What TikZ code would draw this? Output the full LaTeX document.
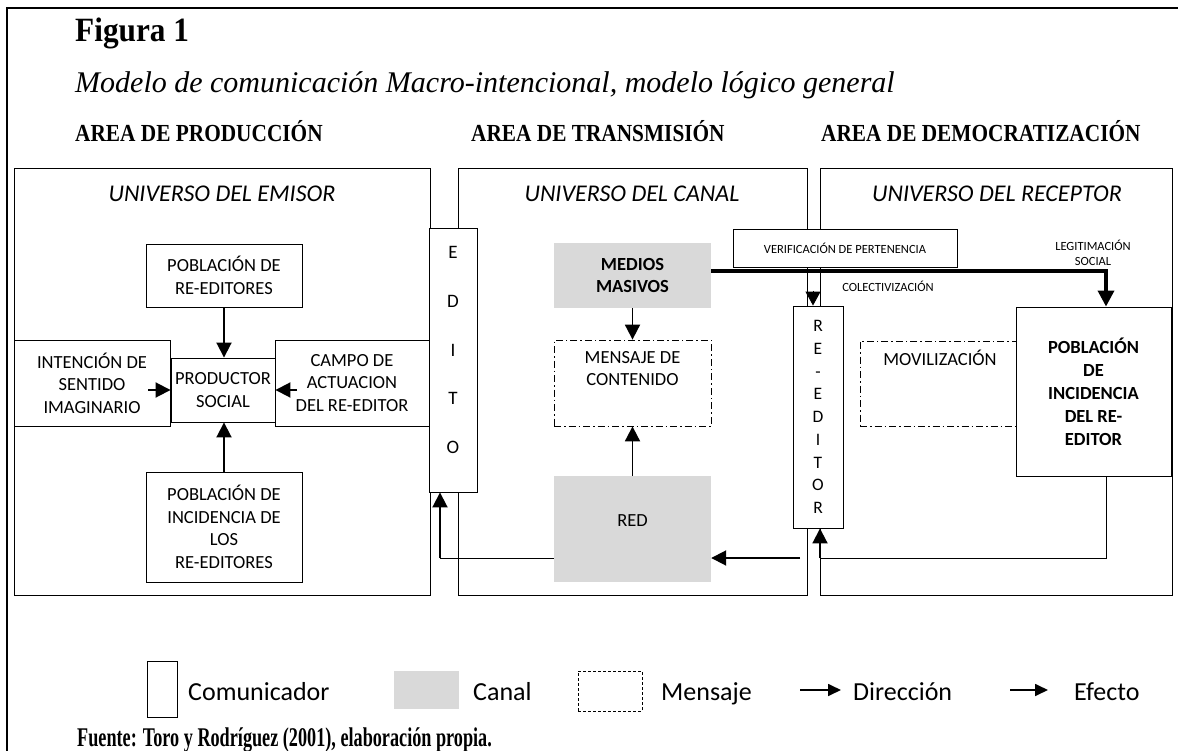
\documentclass[tikz,border=0pt]{standalone}
\usepackage{fontspec}
\setmainfont{Liberation Serif}
\setsansfont{Carlito}
\usetikzlibrary{arrows.meta}
\definecolor{canalgray}{HTML}{D9D9D9}
\newcommand{\fs}[2]{\fontsize{#1}{#2}\selectfont}

\begin{document}
\begin{tikzpicture}[x=1pt,y=-1pt,
  universe/.style={draw,line width=0.9pt,inner sep=0pt},
  utit/.style={inner sep=0pt,font=\sffamily\itshape\fs{24}{28}},
  area/.style={anchor=base west,inner sep=0pt,font=\bfseries\fs{24.5}{28}},
  caja/.style={draw,fill=white,line width=0.9pt,inner sep=0pt,align=center,font=\sffamily\fs{18.5}{22.5}},
  canal/.style={fill=canalgray,inner sep=0pt,align=center,font=\sffamily\fs{18.5}{22.5}},
  mensaje/.style={draw,line width=0.8pt,dash pattern=on 7pt off 3pt on 1.5pt off 3pt,inner sep=0pt,align=center,font=\sffamily\fs{18.5}{22.5}},
  chico/.style={inner sep=0pt,align=center,font=\sffamily\fs{12.5}{15}},
  leyenda/.style={anchor=base west,inner sep=0pt,font=\sffamily\fs{26}{30}},
  arr/.style={line width=1.9pt,-{Triangle[length=15pt,width=15pt]}},
  efecto/.style={line width=3.5pt,-{Triangle[length=16pt,width=16pt]}},
  legarr/.style={line width=1.7pt,-{Triangle[length=13pt,width=12pt]}}]
\useasboundingbox (0,0) rectangle (1178,751);
\draw[line width=1.2pt] (7,751) -- (7,8) -- (1178,8);

\node[anchor=base west,inner sep=0pt,font=\bfseries\fs{34}{38}] (fig) at (75,42) {\scalebox{0.92}[1]{Figura 1}};
\node[anchor=base west,inner sep=0pt,font=\itshape\fs{30}{34}] (titulo) at (75,93) {Modelo de comunicación Macro-intencional, modelo lógico general};
\node[area] (aprod) at (75,142) {\scalebox{0.87}[1]{AREA DE PRODUCCIÓN}};
\node[area] (atrans) at (471,142) {\scalebox{0.87}[1]{AREA DE TRANSMISIÓN}};
\node[area] (ademo) at (821,142) {\scalebox{0.87}[1]{AREA DE DEMOCRATIZACIÓN}};

% universos
\node[universe,minimum width=416pt,minimum height=427pt] (uemisor) at (222,381.5) {};
\node[universe,minimum width=349pt,minimum height=427pt] (ucanal) at (632.5,381.5) {};
\node[universe,minimum width=352pt,minimum height=427pt] (ureceptor) at (996,381.5) {};
\node[utit] (temisor) at (222,194) {UNIVERSO DEL EMISOR};
\node[utit] (tcanal) at (632,194) {UNIVERSO DEL CANAL};
\node[utit] (treceptor) at (997,194) {UNIVERSO DEL RECEPTOR};

% emisor
\node[caja,minimum width=156pt,minimum height=63pt] (pre) at (224,275.5) {POBLACIÓN DE\\RE-EDITORES};
\node[caja,minimum width=156pt,minimum height=86pt] (inten) at (92,383) {INTENCIÓN DE\\SENTIDO\\IMAGINARIO};
\node[caja,minimum width=154pt,minimum height=86pt] (campo) at (352,383) {CAMPO DE\\ACTUACION\\DEL RE-EDITOR};
\node[caja,minimum width=104pt,minimum height=64pt] (prod) at (223,390) {PRODUCTOR\\SOCIAL};
\node[caja,minimum width=156pt,minimum height=110pt] (pinc) at (224,527) {POBLACIÓN DE\\INCIDENCIA DE\\LOS\\RE-EDITORES};
\draw[arr] (pre.south) -- (pre.south |- prod.north);
\draw[arr] (pinc.north) -- (pinc.north |- prod.south);
\coordinate (inl) at (148,390);
\coordinate (inr) at (297,390);
\draw[arr] (inl) -- (prod.west);
\draw[arr] (inr) -- (prod.east);

\node[caja,minimum width=48pt,minimum height=264pt] (edito) at (453,360) {};
\node[inner sep=0pt,align=center,font=\sffamily\fs{19}{48.75}] (editotxt) at (453,350) {E\\D\\I\\T\\O};

% canal
\node[canal,minimum width=157pt,minimum height=65pt,font=\sffamily\bfseries\fs{18.5}{22.5}] (medios) at (632.5,275.5) {MEDIOS\\MASIVOS};
\node[mensaje,minimum width=157pt,minimum height=86pt] (msj) at (632.5,383) {MENSAJE DE\\CONTENIDO\\\strut};
\node[canal,minimum width=157pt,minimum height=106pt] (red) at (632.5,529) {};
\node[inner sep=0pt,font=\sffamily\fs{18.5}{22.5}] (redtxt) at (632.5,521) {RED};
\draw[arr] (medios.south) -- (msj.north);
\draw[arr] (red.north) -- (msj.south);

% receptor
\node[mensaje,minimum width=160pt,minimum height=85pt] (movil) at (940,383.5) {MOVILIZACIÓN\\\strut\\\strut};
\node[caja,minimum width=155pt,minimum height=169pt,font=\sffamily\bfseries\fs{18.5}{23}] (pinc2) at (1093.5,391.5) {POBLACIÓN\\DE\\INCIDENCIA\\DEL RE-\\EDITOR};
\node[caja,minimum width=224pt,minimum height=38pt,font=\sffamily\fs{12.5}{15}] (verif) at (845,248) {VERIFICACIÓN DE PERTENENCIA};
\node[caja,minimum width=50pt,minimum height=222pt,font=\sffamily\fs{17.5}{22.75}] (reedit) at (818,417) {R\\E\\-\\E\\D\\I\\T\\O\\R};
\node[chico] (legit) at (1093,253) {LEGITIMACIÓN\\SOCIAL};
\node[chico] (colect) at (888,286) {COLECTIVIZACIÓN};

\coordinate (efx) at (1106,271);
\draw[efecto] (medios.east |- efx) -- (efx) -- (efx |- pinc2.north);
\coordinate (colec) at (813,291);
\draw[line width=1pt,-{Triangle[length=14pt,width=15pt]}] (colec) -- (colec |- reedit.north);

\coordinate (loopr) at (820,558);
\coordinate (loopc) at (800,558);
\coordinate (loope) at (440,558);
\draw[line width=0.9pt] (efx |- pinc2.south) |- (loopr);
\draw[arr] (loopr) -- (loopr |- reedit.south);
\draw[arr] (loopc) -- (loopc -| red.east);
\draw[line width=0.9pt] (red.west |- loope) -- (loope);
\draw[arr] (loope) -- (loope |- edito.south);

% leyenda
\node[caja,minimum width=30pt,minimum height=56pt] (lcom) at (162,689) {};
\node[leyenda] (tcom) at (188,700) {Comunicador};
\node[canal,minimum width=65pt,minimum height=38pt] (lcan) at (426.5,690) {};
\node[leyenda] (tcan) at (473,700) {Canal};
\node[draw,line width=0.8pt,dash pattern=on 3pt off 2pt,inner sep=0pt,minimum width=64pt,minimum height=40pt] (lmsj) at (610,691) {};
\node[leyenda] (tmsj) at (661,700) {Mensaje};
\node[leyenda] (tdir) at (853,700) {Dirección};
\node[leyenda] (tefe) at (1074,700) {Efecto};
\coordinate (ldir) at (800,690);
\coordinate (lefe) at (1010,690);
\draw[legarr,shorten >=12pt] (ldir) -- (ldir -| tdir.west);
\draw[legarr,shorten >=26pt] (lefe) -- (lefe -| tefe.west);

\node[anchor=base west,inner sep=0pt,font=\bfseries\fs{27}{30}] (fuente) at (77,746) {\scalebox{0.674}[1]{Fuente: Toro y Rodríguez (2001), elaboración propia.}};
\end{tikzpicture}
\end{document}
